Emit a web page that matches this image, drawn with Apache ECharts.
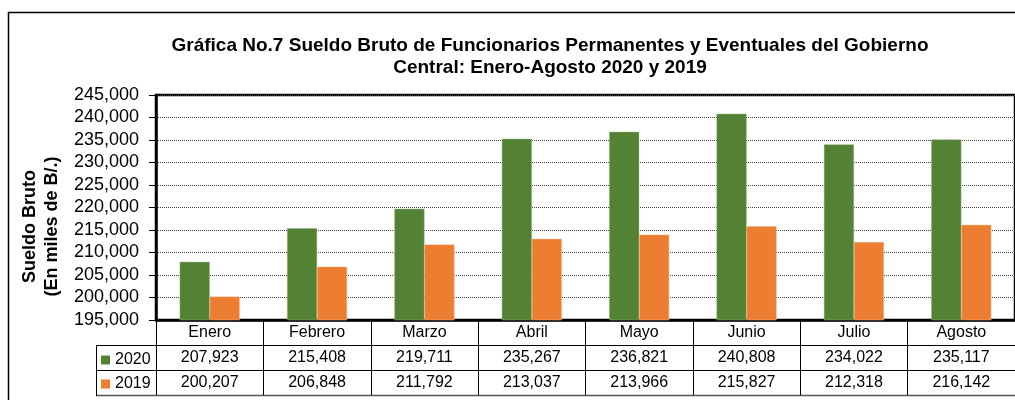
<!DOCTYPE html>
<html>
<head>
<meta charset="utf-8">
<script src="https://cdn.jsdelivr.net/npm/echarts@6/dist/echarts.min.js"></script>
<style>
  html, body { margin: 0; padding: 0; background: #fff; }
  #chart { width: 1015px; height: 400px; }
</style>
</head>
<body>
<div id="chart"></div>
<script>
// datos
var meses = ['Enero', 'Febrero', 'Marzo', 'Abril', 'Mayo', 'Junio', 'Julio', 'Agosto'];
var sueldo2020 = [207923, 215408, 219711, 235267, 236821, 240808, 234022, 235117];
var sueldo2019 = [200207, 206848, 211792, 213037, 213966, 215827, 212318, 216142];
var yTicks = { min: 195000, max: 245000, interval: 5000 };

var FONT = 'Liberation Sans, Arial, sans-serif';
var fmt = function (v) { return Number(v).toLocaleString('en-US'); };

var chart = echarts.init(document.getElementById('chart'));

// filas de la tabla de datos: un eje de categorias por fila
function filaTabla(valores, offset) {
    return {
        type: 'category',
        gridIndex: 0,
        position: 'bottom',
        offset: offset,
        data: valores.map(fmt),
        axisLine: { show: false },
        axisTick: { show: false },
        axisLabel: { fontFamily: FONT, fontSize: 16, color: '#000', margin: 5 }
    };
}

var option = {
    animation: false,
    backgroundColor: '#fff',
    grid: {
        left: 156, top: 95, width: 862, height: 225,
        show: true, borderColor: '#000', borderWidth: 2.5, backgroundColor: 'transparent'
    },
    legend: {
        orient: 'vertical',
        left: 96, top: 347,
        icon: 'rect', itemWidth: 9, itemHeight: 9, itemGap: 8,
        itemStyle: { borderWidth: 0 },
        textStyle: { fontFamily: FONT, fontSize: 16, color: '#000', lineHeight: 16 },
        data: ['2020', '2019']
    },
    xAxis: [
        {
            type: 'category',
            data: meses,
            axisLine: { show: true, lineStyle: { color: '#000', width: 2.5 } },
            axisTick: { show: true, length: 75, lineStyle: { color: '#000', width: 1 } },
            axisLabel: { fontFamily: FONT, fontSize: 16, color: '#000', margin: 5 }
        },
        filaTabla(sueldo2020, 25),
        filaTabla(sueldo2019, 50)
    ],
    yAxis: {
        type: 'value',
        min: yTicks.min, max: yTicks.max, interval: yTicks.interval,
        name: 'Sueldo Bruto\n(En miles de B/.)',
        nameLocation: 'middle',
        nameRotate: 90,
        nameGap: 93,
        nameTextStyle: {
            fontFamily: FONT, fontSize: 18, fontWeight: 'bold', color: '#000',
            lineHeight: 22, padding: [0, 38, 0, 0]
        },
        axisLine: { show: true, lineStyle: { color: '#000', width: 2.5 } },
        axisTick: { show: true, length: 7, lineStyle: { color: '#000' } },
        axisLabel: { fontFamily: FONT, fontSize: 18, color: '#000', margin: 17, formatter: fmt },
        splitLine: { lineStyle: { color: '#444', type: 'dotted', width: 1 } }
    },
    series: [
        {
            name: '2020', type: 'bar', data: sueldo2020,
            barWidth: 30, barGap: '0%',
            itemStyle: { color: '#548235', borderColor: '#8fae79', borderWidth: 0.5 }
        },
        {
            name: '2019', type: 'bar', data: sueldo2019,
            barWidth: 30,
            itemStyle: { color: '#ED7D31', borderColor: '#f5b98c', borderWidth: 0.5 }
        }
    ],
    graphic: [
        {
            type: 'rect', silent: true,
            shape: { x: 8.5, y: 12.5, width: 1200, height: 600 },
            style: { fill: 'none', stroke: '#000', lineWidth: 1.5 }
        },
        {
            type: 'text', x: 550, y: 57,
            style: {
                text: 'Gráfica No.7 Sueldo Bruto de Funcionarios Permanentes y Eventuales del Gobierno\nCentral: Enero-Agosto 2020 y 2019',
                font: 'bold 19px ' + FONT, fill: '#000',
                textAlign: 'center', textVerticalAlign: 'middle', lineHeight: 22
            }
        },
        // marco de la tabla
        { type: 'line', shape: { x1: 96, y1: 345.5, x2: 1015, y2: 345.5 }, style: { stroke: '#000', lineWidth: 1 } },
        { type: 'line', shape: { x1: 96, y1: 370.5, x2: 1015, y2: 370.5 }, style: { stroke: '#000', lineWidth: 1 } },
        { type: 'line', shape: { x1: 96, y1: 395.5, x2: 1015, y2: 395.5 }, style: { stroke: '#555', lineWidth: 1.5 } },
        { type: 'line', shape: { x1: 96.5, y1: 345, x2: 96.5, y2: 396 }, style: { stroke: '#000', lineWidth: 1 } }
    ]
};

chart.setOption(option);
</script>
</body>
</html>
